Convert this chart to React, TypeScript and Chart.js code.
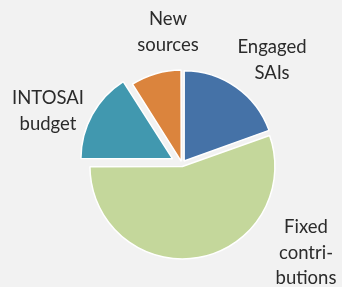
import React, { useEffect, useRef } from "react";
import { Chart, registerables } from "chart.js";

Chart.register(...registerables);

const categories = ["Engaged SAIs", "Fixed contributions", "INTOSAI budget", "New sources"];
const categoryLines = [["Engaged", "SAIs"], ["Fixed", "contri-", "butions"], ["INTOSAI", "budget"], ["New", "sources"]];
const shares = [19.5, 55.5, 16, 9];
const colors = ["#4572A7", "#C4D79B", "#4198AF", "#DB843D"];
const offsets = [15, 10, 43, 11];

// label block centres (x, first-line y) in canvas pixels
const labelPlacement = [
  { x: 272, y: 47 },
  { x: 306, y: 227 },
  { x: 48, y: 98 },
  { x: 168, y: 19 },
];

const labelPlugin = {
  id: "sliceLabels",
  afterDraw(chart: any) {
    const ctx = chart.ctx;
    ctx.save();
    ctx.fillStyle = "#2b2b2b";
    ctx.font = "18.5px Lato";
    ctx.textAlign = "center";
    ctx.textBaseline = "middle";
    categoryLines.forEach((lines, i) => {
      const p = labelPlacement[i];
      lines.forEach((t, j) => ctx.fillText(t, p.x, p.y + j * 25.7));
    });
    ctx.restore();
  },
};

export default function App() {
  const ref = useRef<HTMLCanvasElement>(null);
  useEffect(() => {
    document.body.style.margin = "0";
    document.body.style.background = "#f2f2f2";
    const chart = new Chart(ref.current!, {
      type: "pie",
      data: {
        labels: categories,
        datasets: [
          {
            data: shares,
            backgroundColor: colors,
            borderColor: "#ffffff",
            borderWidth: 1.5,
            offset: offsets,
          },
        ],
      },
      options: {
        responsive: false,
        animation: false,
        radius: 90,
        layout: { padding: { left: 22, right: 0, top: 41, bottom: 0 } },
        plugins: { legend: { display: false }, tooltip: { enabled: false } },
      },
      plugins: [labelPlugin],
    });
    return () => chart.destroy();
  }, []);
  return (
    <div style={{ position: "absolute", left: 0, top: 0, width: 342, height: 287, background: "#f2f2f2" }}>
      <canvas ref={ref} width={342} height={287} />
    </div>
  );
}
